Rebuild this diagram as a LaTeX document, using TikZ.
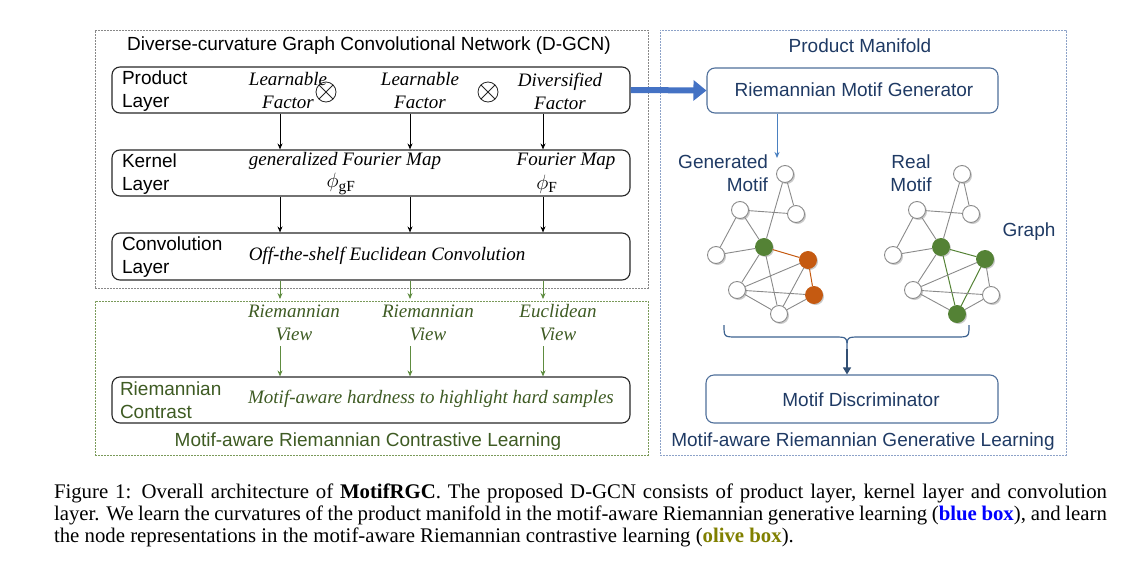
\documentclass[tikz,border=0pt]{standalone}
\usepackage{fontspec}
\setmainfont{Liberation Serif}
\setsansfont{Liberation Sans}
\usetikzlibrary{arrows.meta,shadows}
\definecolor{olivetxt}{HTML}{3E5B23}
\definecolor{arrgreen}{HTML}{5E8C3F}
\definecolor{olivedash}{HTML}{7A9A5A}
\definecolor{graydash}{HTML}{888888}
\definecolor{bluedash}{HTML}{8DA2C8}
\definecolor{boxblue}{HTML}{4F6F9A}
\definecolor{navytxt}{HTML}{1F3A64}
\definecolor{thickblue}{HTML}{4472C4}
\definecolor{thinblue}{HTML}{4A80C0}
\definecolor{bracecol}{HTML}{3E6390}
\definecolor{nodegray}{HTML}{8A8A8A}
\definecolor{nodegreen}{HTML}{548235}
\definecolor{nodeorange}{HTML}{C55A11}
\definecolor{capblue}{HTML}{0000FF}
\definecolor{capolive}{HTML}{808000}
\begin{document}
\begin{tikzpicture}[x=1pt,y=-1pt,
  txt/.style={inner sep=0pt, outer sep=0pt},
  sf/.style={txt, font=\sffamily\fontsize{19}{23}\selectfont},
  it/.style={txt, font=\rmfamily\itshape\fontsize{19}{23}\selectfont},
  mth/.style={txt, font=\fontsize{22}{26}\selectfont},
  capt/.style={txt, font=\rmfamily\fontsize{20.8}{22}\selectfont},
  frame/.style={draw, line width=0.9pt, dash pattern=on 2pt off 1pt, inner sep=0pt},
  layerbox/.style={draw=black!85, line width=1.1pt, rounded corners=8pt, minimum width=518pt, minimum height=46pt, inner sep=0pt},
  bluebox/.style={draw=boxblue, line width=1.1pt, rounded corners=8pt, minimum width=291pt, inner sep=0pt},
  arr/.style={-{Stealth[length=6pt,width=5pt]}, line width=0.8pt},
  garr/.style={arr, draw=arrgreen, fill=arrgreen},
  otimesnode/.style={circle, draw=black!85, line width=0.8pt, minimum size=20pt, inner sep=0pt,
    path picture={\draw[line width=0.8pt, black!85] (path picture bounding box.north west) -- (path picture bounding box.south east)
      (path picture bounding box.north east) -- (path picture bounding box.south west);}},
  gn/.style={circle, draw=nodegray, fill=white, line width=0.9pt, minimum size=17pt, inner sep=0pt,
    drop shadow={shadow xshift=1.5pt, shadow yshift=-1.5pt, opacity=0.35, fill=black!60}},
  gg/.style={gn, draw=nodegreen, fill=nodegreen},
  go/.style={gn, draw=nodeorange, fill=nodeorange},
  edge/.style={draw=nodegray, line width=0.9pt},
  oedge/.style={draw=nodeorange, line width=1pt},
  gedge/.style={draw=nodegreen, line width=1pt}
]
\useasboundingbox (0,0) rectangle (1131,562);

% ---------- frames ----------
\node[frame, draw=graydash, minimum width=553pt, minimum height=258pt] (dgcn) at (371.5,159) {};
\node[frame, draw=olivedash, minimum width=553pt, minimum height=154pt] (mrcl) at (371.5,378) {};
\node[frame, draw=bluedash, minimum width=406pt, minimum height=425pt] (mrgl) at (863,242.5) {};

% ---------- left panel ----------
\node[sf] (title) at (369,46) {Diverse-curvature Graph Convolutional Network (D-GCN)};

\node[layerbox] (prod) at (371,90) {};
\node[layerbox] (ker) at (371,173) {};
\node[layerbox, minimum height=47pt] (conv) at (371,256.5) {};
\node[layerbox] (contr) at (371,400) {};

\node[sf, anchor=west, align=left] (prodlbl) at (122,91) {Product\\Layer};
\node[sf, anchor=west, align=left] (kerlbl) at (122,174) {Kernel\\Layer};
\node[sf, anchor=west, align=left] (convlbl) at (122,257) {Convolution\\Layer};
\node[sf, anchor=west, align=left, text=olivetxt] (contrlbl) at (120,400) {Riemannian\\Contrast};

\node[it, align=center] (f1) at (288,91) {Learnable\\Factor};
\node[otimesnode] (x1) at (326,92) {};
\node[it, align=center] (f2) at (420,91) {Learnable\\Factor};
\node[otimesnode] (x2) at (488,92) {};
\node[it, align=center] (f3) at (560,91) {Diversified\\Factor};

\node[it] (gfm) at (345,161) {generalized Fourier Map};
\node[mth] (phigf) at (341,184) {$\phi_{\mathrm{gF}}$};
\node[it] (fm) at (566,161) {Fourier Map};
\node[mth] (phif) at (547,184) {$\phi_{\mathrm{F}}$};

\node[it] (conv txt) at (387,256) {Off-the-shelf Euclidean Convolution};

\node[it, align=center, text=olivetxt] (v1) at (294,323) {Riemannian\\View};
\node[it, align=center, text=olivetxt] (v2) at (428,323) {Riemannian\\View};
\node[it, align=center, text=olivetxt] (v3) at (558,323) {Euclidean\\View};

\node[it, text=olivetxt] (hard) at (431,399) {Motif-aware hardness to highlight hard samples};
\node[sf, text=olivetxt] (mrcltitle) at (368,442) {Motif-aware Riemannian Contrastive Learning};

\coordinate (c1) at (280,0);
\coordinate (c2) at (410,0);
\coordinate (c3) at (543,0);
\foreach \c in {c1,c2,c3}{
  \draw[arr] (prod.south -| \c) -- (ker.north -| \c);
  \draw[arr] (ker.south -| \c) -- (conv.north -| \c);
  \draw[garr, shorten >=1.5pt] (conv.south -| \c) -- (mrcl.north -| \c);
}
\coordinate (v1s) at (280,346);
\coordinate (v2s) at (410,346);
\coordinate (v3s) at (543,346);
\draw[garr] (v1s) -- (contr.north -| v1s);
\draw[garr] (v2s) -- (contr.north -| v2s);
\draw[garr] (v3s) -- (contr.north -| v3s);

% ---------- right panel ----------
\node[sf, text=navytxt] (pm) at (860,46) {Product Manifold};
\node[bluebox, minimum height=45pt] (gen) at (852.5,90.5) {};
\node[sf, text=navytxt] (gentxt) at (854,90) {Riemannian Motif Generator};
\node[bluebox, minimum width=292pt, minimum height=48pt] (disc) at (852,399) {};
\node[sf, text=navytxt] (disctxt) at (861,400) {Motif Discriminator};
\node[sf, text=navytxt] (mrgltitle) at (863,442) {Motif-aware Riemannian Generative Learning};

\draw[line width=6pt, thickblue, -{Triangle[length=13pt,width=20pt]}] (prod.east) -- (gen.west);

\coordinate (gentip) at (777,158);
\draw[thinblue, line width=1pt, -{Stealth[length=6pt,width=5pt]}] (gen.south -| gentip) -- (gentip);

\node[sf, text=navytxt, anchor=east, align=right] (genlbl) at (768,173) {Generated\\Motif};
\node[sf, text=navytxt, align=center] (reallbl) at (911,173) {Real\\Motif};
\node[sf, text=navytxt] (graphlbl) at (1029,232) {Graph};

% generated motif graph
\node[gn] (gt) at (785,174) {};
\node[gn] (gul) at (740,210) {};
\node[gn] (gur) at (796,214) {};
\node[gn] (gfl) at (716,255) {};
\node[gg] (gc) at (764,247) {};
\node[go] (go1) at (808,260) {};
\node[gn] (gll) at (737,290) {};
\node[go] (go2) at (814,295) {};
\node[gn] (gb) at (779,314) {};
\draw[edge] (gt) -- (gur);
\draw[edge] (gt) -- (gc);
\draw[edge] (gul) -- (gur);
\draw[edge] (gul) -- (gfl);
\draw[edge] (gul) -- (gc);
\draw[edge] (gfl) -- (gc);
\draw[oedge] (gc) -- (go1);
\draw[edge] (gc) -- (gll);
\draw[edge] (gc) -- (gb);
\draw[oedge] (go1) -- (go2);
\draw[edge] (go1) -- (gll);
\draw[edge] (go1) -- (gb);
\draw[edge] (gll) -- (go2);
\draw[edge] (gll) -- (gb);
\draw[edge] (gb) -- (go2);

% real motif graph
\node[gn] (rt) at (962,174) {};
\node[gn] (rul) at (917,210) {};
\node[gn] (rur) at (971,214) {};
\node[gn] (rfl) at (893,255) {};
\node[gg] (rc) at (941,247) {};
\node[gg] (rg2) at (985,259) {};
\node[gn] (rll) at (913,290) {};
\node[gn] (rlr) at (991,295) {};
\node[gg] (rb) at (957,314) {};
\draw[edge] (rt) -- (rur);
\draw[edge] (rt) -- (rc);
\draw[edge] (rul) -- (rur);
\draw[edge] (rul) -- (rfl);
\draw[edge] (rul) -- (rc);
\draw[edge] (rfl) -- (rc);
\draw[gedge] (rc) -- (rg2);
\draw[edge] (rc) -- (rll);
\draw[gedge] (rc) -- (rb);
\draw[edge] (rg2) -- (rlr);
\draw[edge] (rg2) -- (rll);
\draw[gedge] (rg2) -- (rb);
\draw[edge] (rll) -- (rlr);
\draw[edge] (rll) -- (rb);
\draw[edge] (rb) -- (rlr);

% brace
\coordinate (bl) at (724,325);
\coordinate (br) at (969,325);
\coordinate (bt) at (847,349);
\draw[bracecol, line width=1.2pt] (bl) .. controls (724,337) .. (737,337) -- (834,337) .. controls (847,337) .. (bt)
  .. controls (847,337) .. (860,337) -- (956,337) .. controls (969,337) .. (br);
\draw[bracecol!80!black, line width=1.2pt, -{Triangle[length=7pt,width=8pt]}] (bt) -- (disc.north -| bt);

% ---------- caption ----------
\node[capt, anchor=base west] (cap1) at (54,498) {\makebox[1053pt][s]{Figure 1: Overall architecture of \textbf{MotifRGC}. The proposed D-GCN consists of product layer, kernel layer and convolution}};
\node[capt, anchor=base west] (cap2) at (54,520) {\makebox[1053pt][s]{layer. We learn the curvatures of the product manifold in the motif-aware Riemannian generative learning (\textbf{\textcolor{capblue}{blue box}}), and learn}};
\node[capt, anchor=base west] (cap3) at (54,542) {the node representations in the motif-aware Riemannian contrastive learning (\textbf{\textcolor{capolive}{olive box}}).};
\end{tikzpicture}
\end{document}
